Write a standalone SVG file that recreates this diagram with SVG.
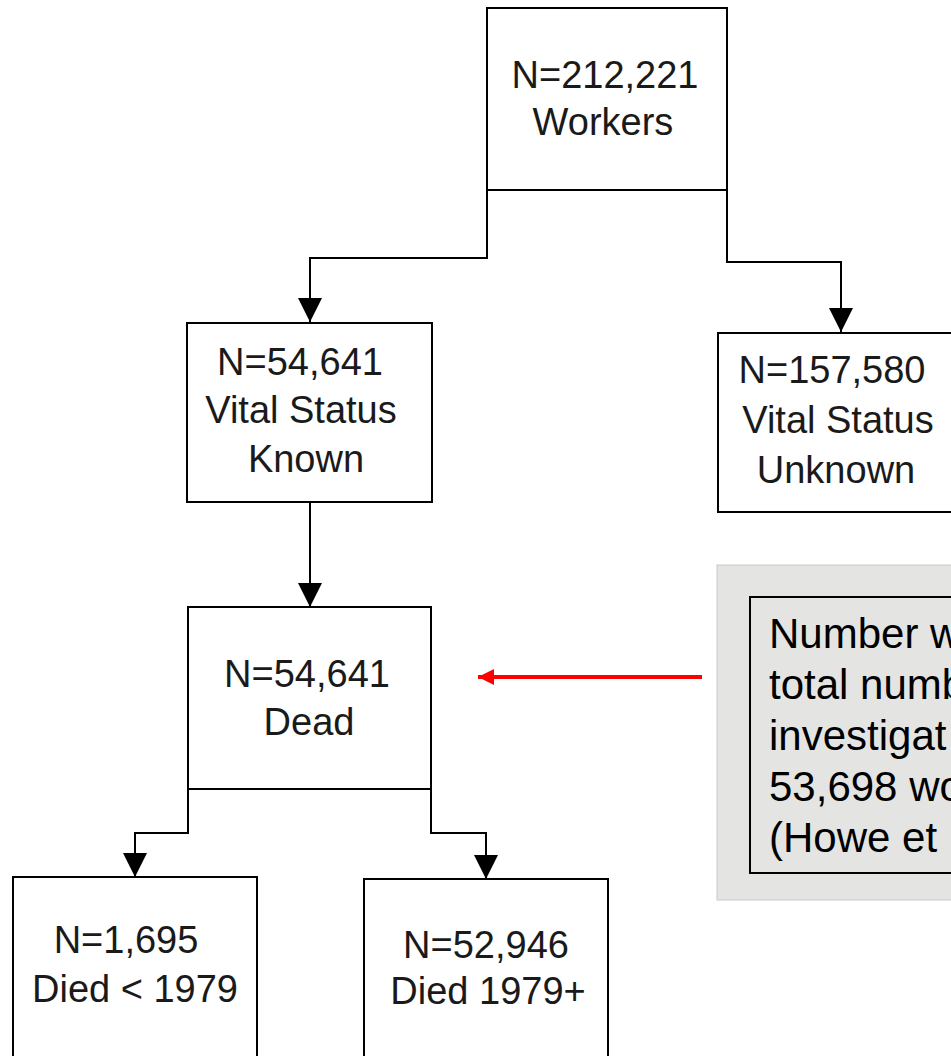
<svg xmlns="http://www.w3.org/2000/svg" width="951" height="1056" viewBox="0 0 951 1056">
  <defs>
    <marker id="ah" viewBox="0 0 24 24" refX="24" refY="12" markerWidth="24" markerHeight="24" markerUnits="userSpaceOnUse" orient="auto">
      <path d="M0,0 L24,12 L0,24 Z" fill="#000"/>
    </marker>
    <marker id="rh" viewBox="0 0 16 16" refX="16" refY="8" markerWidth="16" markerHeight="16" markerUnits="userSpaceOnUse" orient="auto">
      <path d="M0,0 L16,8 L0,16 Z" fill="#ff0000"/>
    </marker>
  </defs>
  <style>
    .box { fill: #ffffff; stroke: #000; stroke-width: 2; }
    .lbl { font-family: "Liberation Sans", Arial, sans-serif; font-size: 38px; fill: #1a1a1a; text-anchor: middle; }
    .conn { fill: none; stroke: #000; stroke-width: 2; }
    .note { font-family: "Liberation Sans", Arial, sans-serif; font-size: 42px; fill: #000; }
  </style>
  <rect width="951" height="1056" fill="#ffffff"/>

  <g id="connectors">
    <polyline class="conn" points="487,190 487,258 310,258 310,322" marker-end="url(#ah)"/>
    <polyline class="conn" points="727,190 727,262 841,262 841,332" marker-end="url(#ah)"/>
    <polyline class="conn" points="310,502 310,607" marker-end="url(#ah)"/>
    <polyline class="conn" points="188,789 188,833 135,833 135,877" marker-end="url(#ah)"/>
    <polyline class="conn" points="431,789 431,833 486,833 486,879" marker-end="url(#ah)"/>
    <line x1="702" y1="677" x2="478" y2="677" stroke="#ff0000" stroke-width="4" marker-end="url(#rh)"/>
  </g>

  <g id="workers">
    <rect class="box" x="487" y="8" width="240" height="182"/>
    <text class="lbl" x="605" y="88">N=212,221</text>
    <text class="lbl" x="603" y="135">Workers</text>
  </g>

  <g id="known">
    <rect class="box" x="187" y="323" width="245" height="179"/>
    <text class="lbl" x="300" y="375">N=54,641</text>
    <text class="lbl" x="301" y="423">Vital Status</text>
    <text class="lbl" x="306" y="472">Known</text>
  </g>

  <g id="unknown">
    <rect class="box" x="718" y="333" width="250" height="179"/>
    <text class="lbl" x="832" y="383">N=157,580</text>
    <text class="lbl" x="838" y="433">Vital Status</text>
    <text class="lbl" x="836" y="483">Unknown</text>
  </g>

  <g id="dead">
    <rect class="box" x="188" y="607" width="243" height="182"/>
    <text class="lbl" x="307" y="687">N=54,641</text>
    <text class="lbl" x="309" y="735">Dead</text>
  </g>

  <g id="died-before">
    <rect class="box" x="13" y="877" width="244" height="200"/>
    <text class="lbl" x="126" y="953">N=1,695</text>
    <text class="lbl" x="135" y="1002">Died &lt; 1979</text>
  </g>

  <g id="died-after">
    <rect class="box" x="364" y="879" width="244" height="200"/>
    <text class="lbl" x="486" y="958">N=52,946</text>
    <text class="lbl" x="488" y="1004">Died 1979+</text>
  </g>

  <g id="note">
    <rect x="717" y="565" width="260" height="335" fill="#e4e5e3" stroke="#c9cac8" stroke-width="1"/>
    <rect x="750" y="597" width="230" height="276" fill="#e4e5e3" stroke="#000" stroke-width="2"/>
    <text class="note" x="769" y="648">Number w</text>
    <text class="note" x="769" y="699">total numb</text>
    <text class="note" x="769" y="750">investigat</text>
    <text class="note" x="769" y="801">53,698 wo</text>
    <text class="note" x="769" y="852">(Howe et</text>
  </g>
</svg>
